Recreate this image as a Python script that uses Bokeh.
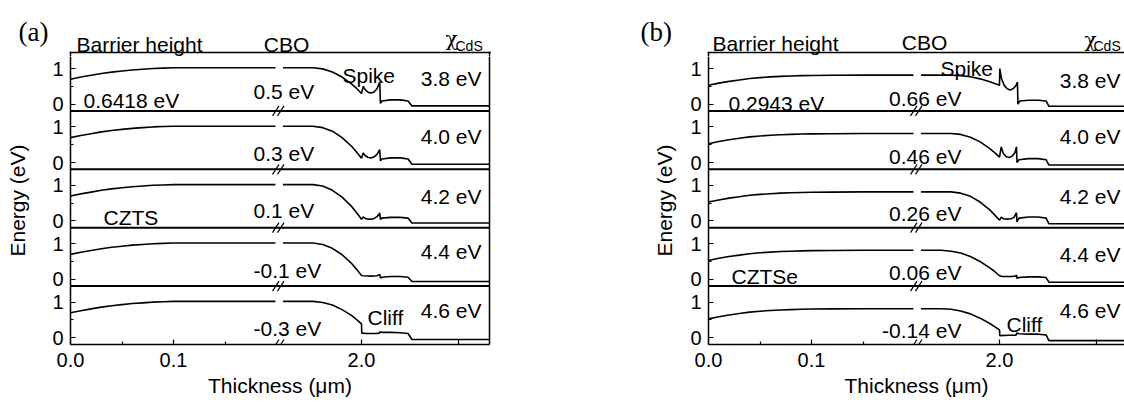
from bokeh.plotting import figure
from bokeh.models import (Range1d, FixedTicker, LinearAxis, Span, Label,
                          CustomJSTickFormatter)
from bokeh.layouts import row, column
from bokeh.core.properties import value
from bokeh.embed import file_html
from bokeh.resources import INLINE

# ---------------- data (thickness in um, energy in eV) ----------------
t_left = [0, 0.01, 0.02, 0.03, 0.04, 0.05, 0.06, 0.07, 0.08, 0.09, 0.10, 0.12, 0.15, 0.199]
e_left_a = [0.70, 0.76, 0.81, 0.86, 0.90, 0.93, 0.96, 0.98, 1.00, 1.01, 1.02, 1.02, 1.02, 1.02]
e_left_b = [0.53, 0.59, 0.64, 0.68, 0.72, 0.745, 0.765, 0.78, 0.79, 0.80, 0.805, 0.81, 0.815, 0.815]

t_fall = [1.919, 1.94, 1.95, 1.96, 1.97, 1.98, 1.99, 1.995, 2.0]
fall_a = [
    [1.02, 1.02, 1.02, 0.99, 0.90, 0.76, 0.56, 0.44, 0.30],
    [1.02, 1.02, 1.02, 0.98, 0.88, 0.70, 0.45, 0.29, 0.12],
    [1.02, 1.02, 1.02, 0.98, 0.86, 0.67, 0.40, 0.23, 0.05],
    [1.02, 1.02, 1.02, 0.98, 0.87, 0.69, 0.44, 0.28, 0.11],
    [1.02, 1.02, 1.02, 0.99, 0.92, 0.79, 0.62, 0.51, 0.39],
]
fall_b = [
    [0.815, 0.815, 0.815, 0.80, 0.77, 0.71, 0.63, 0.58, 0.53],
    [0.815, 0.815, 0.815, 0.79, 0.71, 0.58, 0.39, 0.28, 0.15],
    [0.815, 0.815, 0.815, 0.78, 0.69, 0.53, 0.31, 0.17, 0.02],
    [0.815, 0.815, 0.79, 0.74, 0.64, 0.50, 0.32, 0.22, 0.10],
    [0.815, 0.815, 0.80, 0.75, 0.67, 0.55, 0.40, 0.31, 0.22],
]

# buffer / window layers (after 2.0 um)
tail_a_t = [
    [2.0018, 2.004, 2.007, 2.010, 2.013, 2.016, 2.0188, 2.0195, 2.021, 2.03, 2.04, 2.048, 2.052, 2.14],
    [2.0018, 2.004, 2.007, 2.010, 2.013, 2.016, 2.0188, 2.0195, 2.021, 2.03, 2.04, 2.048, 2.052, 2.14],
    [2.0018, 2.004, 2.007, 2.010, 2.013, 2.016, 2.0188, 2.0195, 2.021, 2.03, 2.04, 2.048, 2.052, 2.14],
    [2.002, 2.010, 2.016, 2.0188, 2.0195, 2.021, 2.03, 2.04, 2.048, 2.052, 2.14],
    [2.0003, 2.005, 2.015, 2.0185, 2.019, 2.021, 2.03, 2.04, 2.048, 2.052, 2.14],
]
tail_a_e = [
    [0.50, 0.40, 0.33, 0.31, 0.34, 0.43, 0.62, 0.02, 0.09, 0.12, 0.12, 0.09, -0.05, -0.05],
    [0.27, 0.19, 0.14, 0.13, 0.16, 0.23, 0.36, 0.05, 0.10, 0.13, 0.13, 0.10, -0.05, -0.05],
    [0.11, 0.07, 0.05, 0.05, 0.07, 0.12, 0.22, 0.04, 0.08, 0.10, 0.10, 0.08, -0.06, -0.06],
    [0.10, 0.09, 0.10, 0.14, 0.04, 0.06, 0.08, 0.08, 0.06, -0.06, -0.06],
    [0.13, 0.12, 0.12, 0.13, 0.17, 0.15, 0.15, 0.14, 0.12, -0.05, -0.05],
]
tail_b_t = [
    [2.0003, 2.002, 2.005, 2.008, 2.011, 2.014, 2.017, 2.0185, 2.019, 2.021, 2.03, 2.04, 2.048, 2.051, 2.14],
    [2.0018, 2.004, 2.007, 2.010, 2.013, 2.016, 2.0175, 2.018, 2.02, 2.03, 2.04, 2.048, 2.051, 2.14],
    [2.0018, 2.004, 2.008, 2.012, 2.015, 2.0175, 2.018, 2.02, 2.03, 2.04, 2.048, 2.051, 2.14],
    [2.003, 2.012, 2.0165, 2.0175, 2.018, 2.02, 2.03, 2.04, 2.048, 2.051, 2.14],
    [2.0003, 2.01, 2.017, 2.0178, 2.02, 2.03, 2.04, 2.048, 2.051, 2.14],
]
tail_b_e = [
    [1.00, 0.72, 0.52, 0.43, 0.40, 0.43, 0.52, 0.62, 0.00, 0.09, 0.11, 0.11, 0.09, -0.06, -0.06],
    [0.44, 0.25, 0.16, 0.14, 0.18, 0.28, 0.44, 0.00, 0.08, 0.11, 0.11, 0.08, -0.07, -0.07],
    [0.11, 0.06, 0.05, 0.06, 0.10, 0.23, -0.03, 0.08, 0.11, 0.11, 0.08, -0.08, -0.08],
    [0.08, 0.08, 0.09, 0.12, 0.03, 0.05, 0.07, 0.07, 0.05, -0.08, -0.08],
    [0.06, 0.07, 0.07, 0.13, 0.11, 0.10, 0.10, 0.08, -0.08, -0.08],
]

chi_labels = ["3.8 eV", "4.0 eV", "4.2 eV", "4.4 eV", "4.6 eV"]
cbo_a = ["0.5 eV", "0.3 eV", "0.1 eV", "-0.1 eV", "-0.3 eV"]
cbo_b = ["0.66 eV", "0.46 eV", "0.26 eV", "0.06 eV", "-0.14 eV"]
barrier_a = "0.6418 eV"
barrier_b = "0.2943 eV"

# ---------------- layout constants ----------------
H = 1.64          # vertical stacking step of the sub-panels
YLO, YHI = -0.19, 1.45
TOP = 4 * H + YHI
HEAD = 56         # header strip height (px); panel top border drawn at 52 px
BORDER_Y = 52
PLOT_H = 402 - HEAD
FONT = "Liberation Sans"
FS = "21px"
TICK_FS = "20px"
PX_PER_EV = 292.0 / (TOP - YLO)


def to_u(t):
    """broken thickness axis: 0-0.2 um and 1.92-2.13 um"""
    return t * 1030.0 if t < 1 else 291.0 + (t - 2.0) * 970.0


def make_header(letter, width, frame_left, border_end, right_stub, items):
    h = figure(width=width, height=HEAD, output_backend="svg", toolbar_location=None,
               x_range=Range1d(-frame_left, width - frame_left), y_range=Range1d(HEAD, 0),
               x_axis_type=None, y_axis_type=None, min_border=0)
    h.grid.visible = False
    h.outline_line_color = None
    # top border of the stacked panels (and the start of the side borders)
    h.line([-0.75, border_end], [BORDER_Y, BORDER_Y], line_color="black", line_width=1.5)
    h.line([0, 0], [BORDER_Y - 0.75, HEAD], line_color="black", line_width=1.5)
    if right_stub is not None:
        h.line([right_stub, right_stub], [BORDER_Y - 0.75, HEAD], line_color="black",
               line_width=1.5)
    h.text(x=[-frame_left + letter[1]], y=[letter[2]], text=[letter[0]],
           text_font=value("Liberation Serif"), text_font_size=value("27px"),
           text_color="black", text_baseline="alphabetic")
    for (txt, x, y, size, font, align) in items:
        h.text(x=[x], y=[y], text=[txt], text_font=value(font), text_font_size=value(size),
               text_color="black", text_align=align, text_baseline="alphabetic")
    return h


def make_panel(e_left, falls, tails_t, tails_e, cbo, barrier, material,
               width, border_left, border_right, x_end, right_axis, ylab_standoff,
               chi_pos, cbo_pos, cbo_align, chi_text_y, cbo_text_y,
               barrier_pos, material_pos, spike_pos, cliff_pos):
    ytop = YLO + (PLOT_H - 58) / PX_PER_EV
    p = figure(width=width, height=PLOT_H, output_backend="svg", toolbar_location=None,
               x_range=Range1d(0, x_end), y_range=Range1d(YLO, ytop),
               min_border_left=border_left, min_border_right=border_right,
               min_border_top=0, min_border_bottom=58)
    p.outline_line_color = None
    p.grid.visible = False

    # axes
    p.xaxis.ticker = FixedTicker(ticks=[0, 103, 291, 388], minor_ticks=[51.5, 154.5])
    p.xaxis.formatter = CustomJSTickFormatter(code="""
        const m = {0: "0.0", 103: "0.1", 291: "2.0"};
        const k = Math.round(tick);
        return (k in m) ? m[k] : "";
    """)
    yt_major = []
    yt_minor = []
    for k in range(5):
        off = (4 - k) * H
        yt_major += [round(off, 6), round(off + 1, 6)]
        yt_minor += [round(off + 0.5, 6)]
    p.yaxis.ticker = FixedTicker(ticks=yt_major, minor_ticks=yt_minor)
    p.yaxis.formatter = CustomJSTickFormatter(code="""
        const r = tick - 1.64 * Math.floor((tick + 0.3) / 1.64);
        return Math.round(r).toFixed(0);
    """)
    for ax in (p.xaxis[0], p.yaxis[0]):
        ax.major_tick_in = 5
        ax.major_tick_out = 0
        ax.minor_tick_in = 3
        ax.minor_tick_out = 0
        ax.axis_line_width = 1.5
        ax.major_tick_line_width = 1.2
        ax.minor_tick_line_width = 1.2
        ax.major_label_text_font = FONT
        ax.major_label_text_font_size = TICK_FS
        ax.major_label_text_color = "black"
        ax.axis_label_text_font = FONT
        ax.axis_label_text_font_size = FS
        ax.axis_label_text_font_style = "normal"
        ax.axis_label_text_color = "black"
    p.xaxis.axis_label = "Thickness (\u03bcm)"
    p.yaxis.axis_label = "Energy (eV)"
    p.xaxis.major_label_standoff = 8
    p.xaxis.axis_label_standoff = 4
    p.yaxis.major_label_standoff = 7
    p.yaxis.axis_label_standoff = ylab_standoff

    if right_axis:
        ra = LinearAxis(ticker=FixedTicker(ticks=[]), major_label_text_font_size="0px",
                        axis_line_width=1.5)
        p.add_layout(ra, "right")

    # separators between the stacked sub-panels
    for k in range(1, 5):
        ys = k * H + YLO
        p.add_layout(Span(location=ys, dimension="width", line_color="black", line_width=2))
    # axis-break marks "//"
    d = 5.0 / PX_PER_EV
    bx0, bx1 = [], []
    by0, by1 = [], []
    for k in range(0, 5):
        ys = k * H + YLO
        for sx in (202.0, 207.0):
            bx0.append(sx)
            bx1.append(sx + 6.5)
            by0.append(ys - d)
            by1.append(ys + d)
    p.segment(bx0, by0, bx1, by1, line_color="black", line_width=1.2)

    ul = [to_u(t) for t in t_left]
    for k in range(5):
        off = (4 - k) * H
        p.line(ul, [e + off for e in e_left], line_color="black", line_width=1.6)
        rt = t_fall + tails_t[k]
        re = falls[k] + tails_e[k]
        p.line([to_u(t) for t in rt], [e + off for e in re], line_color="black", line_width=1.6)

        p.add_layout(Label(x=chi_pos, y=off + chi_text_y[k], text=chi_labels[k], text_font=FONT,
                           text_font_size=FS, text_color="black", text_align="right",
                           text_baseline="alphabetic"))
        p.add_layout(Label(x=cbo_pos, y=off + cbo_text_y[k], text=cbo[k], text_font=FONT,
                           text_font_size=FS, text_color="black", text_align=cbo_align,
                           text_baseline="alphabetic"))

    off0 = 4 * H
    for (txt, pos) in ((barrier, (barrier_pos[0], off0 + barrier_pos[1])),
                       ("Spike", (spike_pos[0], off0 + spike_pos[1])),
                       ("Cliff", cliff_pos), (material, material_pos)):
        p.add_layout(Label(x=pos[0], y=pos[1], text=txt, text_font=FONT, text_font_size=FS,
                           text_color="black", text_baseline="alphabetic"))
    return p


ha = make_header(("(a)", 18, 31), 560, 70, 420.25, 419, [
    ("Barrier height", 6, 44, FS, FONT, "left"),
    ("CBO", 216, 44, FS, FONT, "center"),
    ("\u03c7", 375, 38, "20px", "DejaVu Serif", "left"),
    ("CdS", 385, 45.5, "14px", FONT, "left"),
])
hb = make_header(("(b)", 640 - 560, 31), 564, 148, 420, None, [
    ("Barrier height", 4, 42.5, FS, FONT, "left"),
    ("CBO", 216, 41.5, FS, FONT, "center"),
    ("\u03c7", 376, 39, "20px", "DejaVu Serif", "left"),
    ("CdS", 385, 45, "14px", FONT, "left"),
])

pa = make_panel(e_left_a, fall_a, tail_a_t, tail_a_e, cbo_a, barrier_a, "CZTS",
                width=560, border_left=70, border_right=71, x_end=419, right_axis=True,
                ylab_standoff=20,
                chi_pos=411, cbo_pos=183, cbo_align="left",
                chi_text_y=[0.73, 0.72, 0.70, 0.77, 0.77],
                cbo_text_y=[0.35, 0.25, 0.28, 0.25, 0.25],
                barrier_pos=(13, 0.11), material_pos=(33, 2 * H + 0.09),
                spike_pos=(272, 0.81), cliff_pos=(297, 0.56))

pb = make_panel(e_left_b, fall_b, tail_b_t, tail_b_e, cbo_b, barrier_b, "CZTSe",
                width=564, border_left=148, border_right=0, x_end=416, right_axis=False,
                ylab_standoff=11,
                chi_pos=412, cbo_pos=253, cbo_align="right",
                chi_text_y=[0.67, 0.72, 0.70, 0.70, 0.77],
                cbo_text_y=[0.16, 0.16, 0.20, 0.20, 0.20],
                barrier_pos=(20, 0.03), material_pos=(23, 1 * H + 0.09),
                spike_pos=(232, 1.0), cliff_pos=(298, 0.37))

layout = column(row(ha, hb), row(pa, pb))
open("out.html", "w").write(file_html(layout, INLINE))
